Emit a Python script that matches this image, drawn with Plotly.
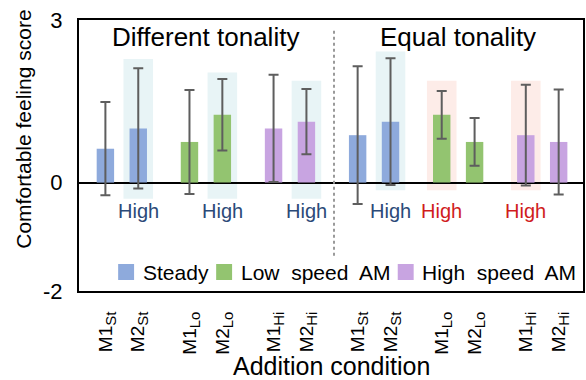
import plotly.graph_objects as go

# ---------------- data ----------------
base_labels = ["M1", "M2", "M1", "M2", "M1", "M2", "M1", "M2", "M1", "M2", "M1", "M2"]
sub_labels = ["St", "St", "Lo", "Lo", "Hi", "Hi", "St", "St", "Lo", "Lo", "Hi", "Hi"]
series_names = ["Steady", "Low\u00a0 speed\u00a0 AM", "High\u00a0 speed\u00a0 AM"]
series_of_bar = [0, 0, 1, 1, 2, 2, 0, 0, 1, 1, 2, 2]
mean_scores = [0.625, 1.0, 0.75, 1.25, 1.0, 1.125, 0.875, 1.125, 1.25, 0.75, 0.875, 0.75]
sd_scores = [0.86, 1.11, 0.96, 0.66, 0.99, 0.60, 1.27, 1.17, 0.44, 0.44, 0.93, 0.97]
section_names = ["Different tonality", "Equal tonality"]
highlight_idx = [1, 3, 5, 7, 8, 10]
highlight_top = [2.28, 2.03, 1.88, 2.42, 1.88, 1.88]
highlight_bottom = [-0.30, -0.30, -0.30, -0.14, -0.14, -0.14]
highlight_red = [False, False, False, False, True, True]
highlight_text = ["High"] * 6

# ---------------- style ----------------
FONT = "Liberation Sans, Arial, sans-serif"
colors = ["#8eaadc", "#93c470", "#c8a4e1"]
hl_fill = {False: "#e8f4f6", True: "#fdece8"}
hl_text = {False: "#2b4a78", True: "#d01c1c"}
GROUP_GAP = 2.558
BAR_W = 0.53
HL_W = 0.9

W, H = 586, 380
ML, MR, MT, MB = 79, 1, 20, 89
pw, ph = W - ML - MR, H - MT - MB


def px_x(px):
    return (px - ML) / pw


def px_y(py):
    return (H - MB - py) / ph


x_pos = [(i // 2) * GROUP_GAP + (i % 2) for i in range(len(mean_scores))]
tick_text = [f"{b}<sub><span style='font-size:15px'>{s}</span></sub>"
             for b, s in zip(base_labels, sub_labels)]

fig = go.Figure()
for s, name in enumerate(series_names):
    idx = [i for i in range(len(mean_scores)) if series_of_bar[i] == s]
    fig.add_trace(go.Bar(
        x=[x_pos[i] for i in idx],
        y=[mean_scores[i] for i in idx],
        width=BAR_W,
        marker=dict(color=colors[s], line=dict(width=0)),
        error_y=dict(type="data", array=[sd_scores[i] for i in idx], visible=True,
                     color="#5e5e5e", thickness=2, width=5),
        name=name, showlegend=False,
    ))

shapes = []
annotations = []
for k, i in enumerate(highlight_idx):
    shapes.append(dict(type="rect", xref="x", yref="y", layer="below",
                       x0=x_pos[i] - HL_W / 2, x1=x_pos[i] + HL_W / 2,
                       y0=highlight_bottom[k], y1=highlight_top[k],
                       fillcolor=hl_fill[highlight_red[k]], line=dict(width=0)))
    annotations.append(dict(x=x_pos[i], y=-0.53, xref="x", yref="y", text=highlight_text[k],
                            showarrow=False, xanchor="center", yanchor="middle",
                            font=dict(family=FONT, size=20, color=hl_text[highlight_red[k]])))

# divider between the two sections
div_x = (x_pos[5] + x_pos[6]) / 2 + 0.06
shapes.append(dict(type="line", xref="x", yref="y", x0=div_x, x1=div_x, y0=-1.35, y1=2.83,
                   line=dict(color="#9a9a9a", width=2, dash="dot")))

# section titles
for g, name in enumerate(section_names):
    cx = sum(x_pos[g * 6:(g + 1) * 6]) / 6
    annotations.append(dict(x=cx, y=2.69, xref="x", yref="y", text=name, showarrow=False,
                            xanchor="center", yanchor="middle",
                            font=dict(family=FONT, size=26, color="black")))

# manual legend
sw_left = [118.3, 216.7, 399.0]
txt_left = [141.0, 240.0, 421.7]
for s, name in enumerate(series_names):
    shapes.append(dict(type="rect", xref="paper", yref="paper",
                       x0=px_x(sw_left[s]), x1=px_x(sw_left[s] + 16),
                       y0=px_y(280), y1=px_y(264),
                       fillcolor=colors[s], line=dict(width=0)))
    annotations.append(dict(x=px_x(txt_left[s]), y=px_y(272), xref="paper", yref="paper",
                            text=name, showarrow=False, xanchor="left", yanchor="middle",
                            font=dict(family=FONT, size=21, color="black")))

# axis titles
annotations.append(dict(x=px_x(22.5), y=px_y(129), xref="paper", yref="paper",
                        text="Comfortable feeling score", textangle=-90, showarrow=False,
                        xanchor="center", yanchor="middle",
                        font=dict(family=FONT, size=21, color="black")))
annotations.append(dict(x=px_x(333), y=px_y(382), xref="paper", yref="paper",
                        text="Addition condition", showarrow=False,
                        xanchor="center", yanchor="bottom",
                        font=dict(family=FONT, size=25, color="black")))

fig.update_layout(
    width=W, height=H,
    margin=dict(l=ML, r=MR, t=MT, b=MB, pad=0),
    paper_bgcolor="white", plot_bgcolor="white",
    font=dict(family=FONT, color="black"),
    shapes=shapes, annotations=annotations,
    barmode="overlay",
    xaxis=dict(range=[(ML - 105.5) / 33.0, (W - MR - 105.5) / 33.0],
               tickmode="array", tickvals=x_pos, ticktext=tick_text,
               tickangle=-90, tickfont=dict(family=FONT, size=19, color="black"),
               showgrid=False, zeroline=False, ticks="",
               showline=True, mirror=True, linecolor="black", linewidth=2,
               ticklabelstandoff=11),
    yaxis=dict(range=[-2, 3], tickmode="array", tickvals=[-2, 0, 3], ticktext=["-2", "0", "3"],
               tickfont=dict(family=FONT, size=22, color="black"),
               showgrid=False, zeroline=True, zerolinecolor="black", zerolinewidth=2,
               ticks="", showline=True, mirror=True, linecolor="black", linewidth=2,
               ticklabelstandoff=10),
)

fig.write_html("out.html")
